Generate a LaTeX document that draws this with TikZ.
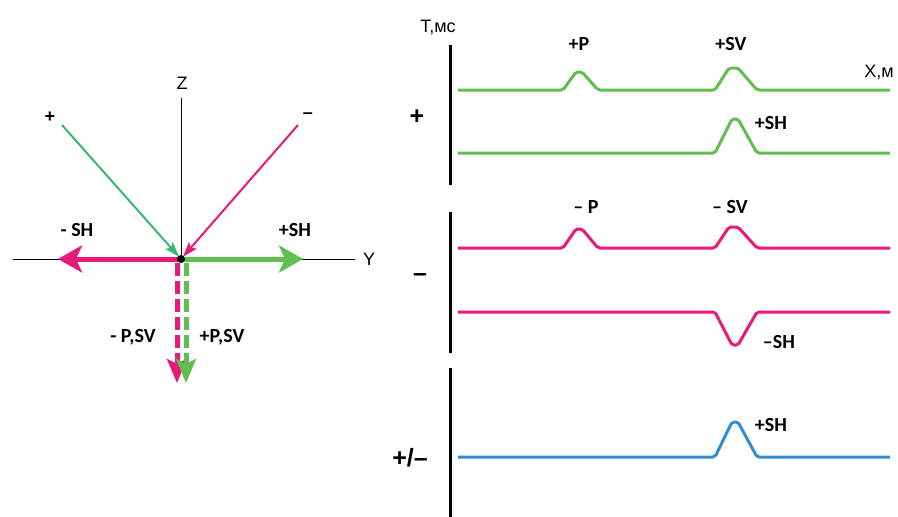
\documentclass[tikz,border=0pt]{standalone}
\usepackage{fontspec}
\setmainfont{Liberation Sans}
\newfontfamily\lblfont{Carlito}
\usetikzlibrary{arrows.meta}
\definecolor{grn}{RGB}{98,190,80}
\definecolor{mag}{RGB}{232,25,122}
\definecolor{tgrn}{RGB}{60,180,115}
\definecolor{blu}{RGB}{50,140,210}
\begin{document}
\begin{tikzpicture}[x=1pt,y=-1pt,
  axlbl/.style={font=\fontsize{18}{20}\selectfont, inner sep=0pt},
  wlbl/.style={font=\lblfont\bfseries\fontsize{20}{22}\selectfont, inner sep=0pt},
  biglbl/.style={font=\bfseries\fontsize{25}{27}\selectfont, inner sep=0pt},
  trace/.style={line width=3pt, line join=round, rounded corners=2pt},
  fatarr/.style={line width=5pt, -{Stealth[length=24pt,width=27pt,inset=6pt]}},
  thinarr/.style={line width=2pt, -{Stealth[length=15pt,width=10pt,inset=3pt]}},
  dasharr/.style={line width=5pt, dash pattern=on 13pt off 5pt, -{Stealth[length=24pt,width=20pt,inset=5pt]}},
  tax/.style={line width=3pt, black}
]
\useasboundingbox (0,0) rectangle (898,517);
% ---------- left diagram ----------
\coordinate (O) at (181,259);
\coordinate (Ztop) at (181,98);
\coordinate (Yl) at (13,259);
\coordinate (Yr) at (355,259);
\coordinate (Gs) at (62,125);
\coordinate (Ms) at (298,125);
\coordinate (SHl) at (58,259);
\coordinate (SHr) at (303,259);
\coordinate (Dm0) at (177,263);
\coordinate (Dm1) at (177,383);
\coordinate (Dg0) at (186,263);
\coordinate (Dg1) at (186,383);
\draw[line width=1pt] (Ztop) -- (O);
\draw[line width=1pt] (Yl) -- (Yr);
\draw[thinarr, tgrn, shorten >=3pt] (Gs) -- (O);
\draw[thinarr, mag, shorten >=3pt] (Ms) -- (O);
\draw[fatarr, mag] (O) -- (SHl);
\draw[fatarr, grn] (O) -- (SHr);
\draw[dasharr, mag] (Dm0) -- (Dm1);
\draw[dasharr, grn] (Dg0) -- (Dg1);
\fill[black] (O) circle (4pt);
\node[axlbl] (lZ) at (182,83) {Z};
\node[axlbl] (lY) at (369,259) {Y};
\node[biglbl, font=\bfseries\fontsize{18}{20}\selectfont] (lp) at (50,117) {+};
\node[biglbl, font=\bfseries\fontsize{18}{20}\selectfont] (lm) at (308,116) {–};
\node[wlbl] (lSHm) at (77,230) {- SH};
\node[wlbl] (lSHp) at (295,230) {+SH};
\node[wlbl] (lPSVm) at (133,337) {- P,SV};
\node[wlbl] (lPSVp) at (222,337) {+P,SV};
% ---------- right panel ----------
\draw[tax] (450,45) -- (450,185);
\draw[tax] (450,212) -- (450,353);
\draw[tax] (450,368) -- (450,517);
\node[axlbl] (lT) at (438,27) {T,мс};
\node[axlbl] (lX) at (879,72) {X,м};
\node[biglbl] (bp) at (417,117) {+};
\node[biglbl] (bm) at (420,278) {–};
\node[biglbl] (bpm) at (410,458) {+/–};
% green traces
\draw[trace, grn] (458,90) -- (563,90) -- (576,72) -- (582,72) -- (598,90) -- (715,90) -- (729,68) -- (738,68) -- (757,90) -- (890,90);
\draw[trace, grn] (458,153) -- (715,153) -- (732,119) -- (738,119) -- (757,153) -- (890,153);
\node[wlbl] (gP) at (579,44) {+P};
\node[wlbl] (gSV) at (731,44) {+SV};
\node[wlbl] (gSH) at (771,123) {+SH};
% magenta traces
\draw[trace, mag] (458,248) -- (563,248) -- (576,229) -- (582,229) -- (598,248) -- (715,248) -- (729,227) -- (738,227) -- (757,248) -- (890,248);
\draw[trace, mag] (458,312) -- (715,312) -- (732,345) -- (738,345) -- (757,312) -- (890,312);
\node[wlbl] (mP) at (586,207) {– P};
\node[wlbl] (mSV) at (730,207) {– SV};
\node[wlbl] (mSH) at (779,342) {–SH};
% blue trace
\draw[trace, blu] (458,457) -- (715,457) -- (732,422) -- (738,422) -- (757,457) -- (890,457);
\node[wlbl] (bSH) at (771,425) {+SH};
\end{tikzpicture}
\end{document}
